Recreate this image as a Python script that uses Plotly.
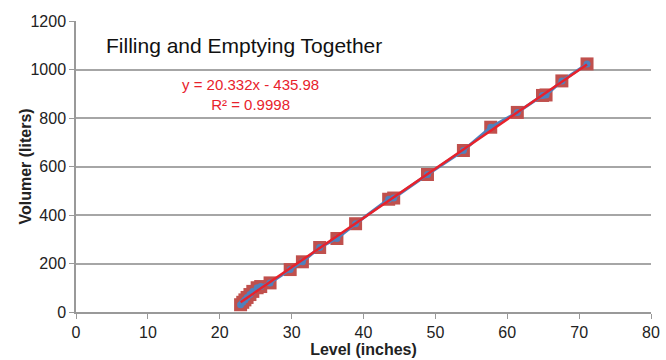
import numpy as np
import plotly.graph_objects as go

level_in = [22.9, 23.2, 23.5, 23.8, 24.2, 24.6, 25.2, 25.7, 27.0, 29.8, 31.5, 33.9,
            36.3, 38.9, 43.5, 44.2, 48.9, 53.9, 57.7, 61.4, 64.9, 65.4, 67.6, 71.1]
volume_l = [30, 40, 50, 60, 72, 85, 100, 105, 120, 175, 207, 266,
            303, 364, 465, 470, 567, 666, 762, 823, 893, 895, 953, 1023]

title_text = "Filling and Emptying Together"
eq_text = "y = 20.332x - 435.98<br>R² = 0.9998"
x_title = "<b>Level (inches)</b>"
y_title = "<b>Volumer (liters)</b>"

slope, intercept = np.polyfit(level_in, volume_l, 1)
xfit = [min(level_in), max(level_in)]
yfit = [slope * v + intercept for v in xfit]

fig = go.Figure()
fig.add_trace(go.Scatter(x=level_in, y=volume_l, mode="markers",
                         marker=dict(symbol="square", size=13, color="#C0504D",
                                     line=dict(width=0)), showlegend=False))
fig.add_trace(go.Scatter(x=level_in, y=volume_l, mode="lines+markers",
                         line=dict(color="#4F81BD", width=3),
                         marker=dict(symbol="circle", size=7, color="#4F81BD"),
                         showlegend=False))
fig.add_trace(go.Scatter(x=xfit, y=yfit, mode="lines",
                         line=dict(color="#E8222B", width=2.5), showlegend=False))

FF = "Arial, Liberation Sans, sans-serif"
axis_font = dict(family=FF, size=16, color="#222")
fig.update_layout(
    width=666, height=360,
    margin=dict(l=76, r=15, t=21, b=48),
    paper_bgcolor="white", plot_bgcolor="white",
    font=axis_font,
    xaxis=dict(range=[0, 80], dtick=10, showgrid=False, zeroline=False,
               showline=True, linecolor="#999", linewidth=1.5,
               ticks="outside", ticklen=5, tickcolor="#999",
               tickfont=axis_font, automargin=False,
               title=dict(text=x_title, font=axis_font, standoff=4)),
    yaxis=dict(range=[0, 1200], dtick=200, showgrid=True, gridcolor="#A6A6A6",
               gridwidth=1.5, zeroline=False,
               showline=True, linecolor="#999", linewidth=1.5,
               ticks="outside", ticklen=5, tickcolor="#999",
               tickfont=axis_font, automargin=False),
    annotations=[
        dict(text=title_text, xref="paper", yref="paper",
             x=(104 - 76) / 575, y=(312 - 45) / 291,
             showarrow=False, font=dict(family=FF, size=21, color="#111"),
             xanchor="left", yanchor="middle"),
        dict(text=eq_text, xref="x", yref="y",
             x=(250 - 76) / 7.1875, y=(312 - 94) / 0.2425, showarrow=False,
             font=dict(family=FF, size=15, color="#E8222B"),
             align="center", xanchor="center", yanchor="middle"),
        dict(text=y_title, xref="paper", yref="paper",
             x=(25 - 76) / 575, y=0.5, textangle=-90, showarrow=False,
             font=axis_font, xanchor="center", yanchor="middle"),
    ],
)

fig.write_html("out.html", config={"displayModeBar": False},
               post_script="document.body.style.margin='0';document.body.style.padding='0';")
